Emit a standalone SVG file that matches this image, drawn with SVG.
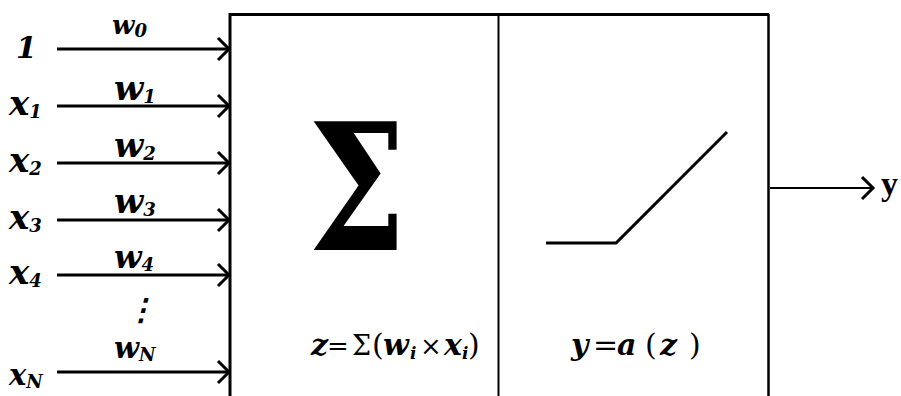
<svg xmlns="http://www.w3.org/2000/svg" width="901" height="396" viewBox="0 0 901 396">
<style>
.m{font-family:"DejaVu Serif","Liberation Serif",serif;font-weight:bold;font-style:italic;fill:#000}
.u{font-family:"DejaVu Serif","Liberation Serif",serif;fill:#000}
.sub{font-size:18px}
.edge{stroke:#000;stroke-width:3;fill:none}
</style>
<defs>
<marker id="chev" markerUnits="userSpaceOnUse" markerWidth="30" markerHeight="30" refX="0" refY="0" viewBox="-15 -15 30 30" orient="auto" overflow="visible">
<path d="M-11,-11 L0,0 L-11,11" fill="none" stroke="#000" stroke-width="3"/>
</marker>
</defs>
<rect width="901" height="396" fill="#fff"/>
<g id="neuron">
<path d="M230,396 V14.5 H769" fill="none" stroke="#000" stroke-width="3"/>
<line x1="768.5" y1="14" x2="768.5" y2="396" stroke="#000" stroke-width="2.5"/>
<line x1="498.5" y1="14" x2="498.5" y2="396" stroke="#000" stroke-width="2"/>
</g>
<g id="sum">
<text class="u" x="308" y="250" font-size="176" font-weight="bold" textLength="98" lengthAdjust="spacingAndGlyphs">Σ</text>
<text class="u" y="355" font-size="30"><tspan class="m" x="311">z</tspan><tspan x="327" font-size="26">=</tspan><tspan x="352" font-size="27">Σ</tspan><tspan x="372" font-size="30">(</tspan><tspan class="m" x="383">w</tspan><tspan class="m" x="410" y="359" font-size="17">i</tspan><tspan x="420" y="355" font-size="26">×</tspan><tspan class="m" x="444">x</tspan><tspan class="m" x="462" y="359" font-size="17">i</tspan><tspan x="468" y="355">)</tspan></text>
</g>
<g id="activation">
<polyline points="546,243 616,243 727,132" fill="none" stroke="#000" stroke-width="3"/>
<text class="u" y="355" font-size="30"><tspan class="m" x="571">y</tspan><tspan x="593">=</tspan><tspan class="m" x="617">a</tspan><tspan x="645">(</tspan><tspan class="m" x="660">z</tspan><tspan x="689">)</tspan></text>
</g>
<g id="inputs">
<text class="m" x="16" y="58" font-size="30">1</text>
<text class="m" x="9" y="115" font-size="34">x<tspan class="sub" dy="3">1</tspan></text>
<text class="m" x="9" y="172" font-size="34">x<tspan class="sub" dy="3">2</tspan></text>
<text class="m" x="9" y="229" font-size="34">x<tspan class="sub" dy="3">3</tspan></text>
<text class="m" x="9" y="284" font-size="34">x<tspan class="sub" dy="3">4</tspan></text>
<text class="m" x="9" y="385" font-size="29">x<tspan class="sub" dy="3">N</tspan></text>
<text class="m" x="126" y="320" font-size="30">⋮</text>
</g>
<g id="weights">
<text class="m" x="112" y="34" font-size="26">w<tspan class="sub" dy="3">0</tspan></text>
<text class="m" x="114" y="100" font-size="34">w<tspan class="sub" dy="3">1</tspan></text>
<text class="m" x="114" y="157" font-size="34">w<tspan class="sub" dy="3">2</tspan></text>
<text class="m" x="114" y="213" font-size="34">w<tspan class="sub" dy="3">3</tspan></text>
<text class="m" x="114" y="268" font-size="32">w<tspan class="sub" dy="3">4</tspan></text>
<text class="m" x="114" y="358" font-size="29">w<tspan class="sub" dy="3">N</tspan></text>
</g>
<g id="output">
<text x="881" y="195" font-family="Liberation Serif, serif" font-weight="bold" font-size="34">y</text>
</g>
<g id="connectors" class="edge">
<line x1="57" y1="49" x2="229" y2="49" marker-end="url(#chev)"/>
<line x1="57" y1="106" x2="229" y2="106" marker-end="url(#chev)"/>
<line x1="57" y1="163" x2="229" y2="163" marker-end="url(#chev)"/>
<line x1="57" y1="220" x2="229" y2="220" marker-end="url(#chev)"/>
<line x1="57" y1="275" x2="229" y2="275" marker-end="url(#chev)"/>
<line x1="57" y1="372" x2="229" y2="372" marker-end="url(#chev)"/>
<line x1="770" y1="188" x2="873" y2="188" stroke-width="2" marker-end="url(#chev)"/>
</g>
</svg>
